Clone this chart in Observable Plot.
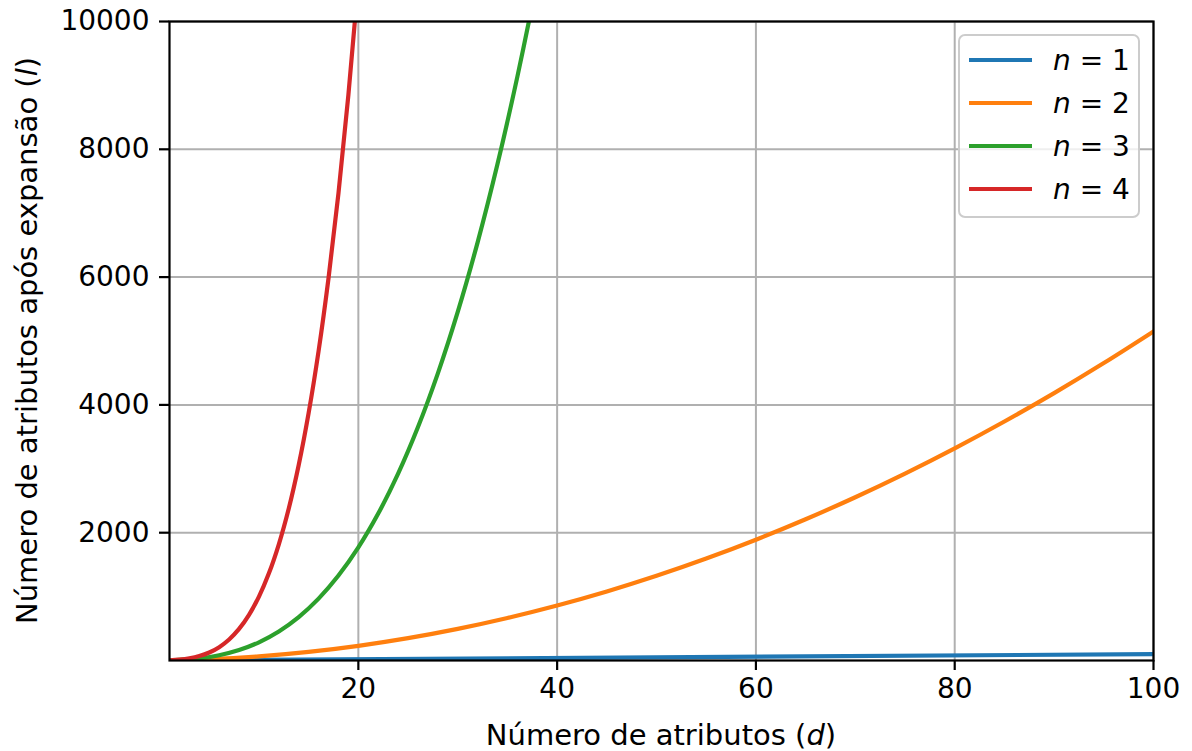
<!DOCTYPE html>
<html>
<head>
<meta charset="utf-8">
<script src="https://cdn.jsdelivr.net/npm/d3@7"></script>
<script src="https://cdn.jsdelivr.net/npm/@observablehq/plot@0.6"></script>
<style>
  html, body { margin: 0; padding: 0; background: #fff; }
  #chart { width: 1192px; height: 751px; }
</style>
</head>
<body>
<div id="chart"></div>
<script>
// ---- data ----
const seriesNames = ["n = 1", "n = 2", "n = 3", "n = 4"];
const seriesColors = ["#1f77b4", "#ff7f0e", "#2ca02c", "#d62728"];

const dN1 = [1, 100];
const lN1 = [1, 100];

const dN2 = [1, 5, 10, 15, 20, 25, 30, 35, 40, 45, 50, 55, 60, 65, 70, 75, 80, 85, 90, 95, 100];
const lN2 = [2, 20, 65, 135, 230, 350, 495, 665, 860, 1080, 1325, 1595, 1890, 2210, 2555, 2925, 3320, 3740, 4185, 4655, 5150];

const dN3 = [1, 2, 4, 6, 8, 10, 12, 14, 16, 18, 20, 22, 24, 26, 28, 30, 32, 34, 36, 38, 40];
const lN3 = [3, 9, 34, 83, 164, 285, 454, 679, 968, 1329, 1770, 2299, 2924, 3653, 4494, 5455, 6544, 7769, 9138, 10659, 12340];

const dN4 = [1, 2, 3, 4, 5, 6, 7, 8, 9, 10, 11, 12, 13, 14, 15, 16, 17, 18, 19, 20, 21];
const lN4 = [4, 14, 34, 69, 125, 209, 329, 494, 714, 1000, 1364, 1819, 2379, 3059, 3875, 4844, 5984, 7314, 8854, 10625, 12649];

const xTicks = [20, 40, 60, 80, 100];
const yTicks = [2000, 4000, 6000, 8000, 10000];

// ---- build table ----
const allD = [dN1, dN2, dN3, dN4];
const allL = [lN1, lN2, lN3, lN4];
const rows = [];
allD.forEach((ds, k) => ds.forEach((d, i) => rows.push({series: seriesNames[k], d, l: allL[k][i]})));

const FONT = "DejaVu Sans, sans-serif";
const FS = 28;
const FSL = 29;

const W = 1192, H = 751;
const mL = 169, mR = 39, mT = 21, mB = 91;

const plot = Plot.plot({
  width: W,
  height: H,
  marginLeft: mL,
  marginRight: mR,
  marginTop: mT,
  marginBottom: mB,
  style: {fontFamily: FONT, fontSize: FS + "px", background: "#fff", color: "#000"},
  x: {domain: [1, 100]},
  y: {domain: [0, 10000]},
  marks: [
    Plot.gridX(xTicks, {stroke: "#b0b0b0", strokeOpacity: 1, strokeWidth: 2}),
    Plot.gridY(yTicks, {stroke: "#b0b0b0", strokeOpacity: 1, strokeWidth: 2}),
    ...seriesNames.map((s, k) =>
      Plot.line(rows.filter(r => r.series === s), {
        x: "d", y: "l", stroke: seriesColors[k], strokeWidth: 4.2,
        curve: "catmull-rom", clip: true
      })
    ),
    Plot.frame({stroke: "#000", strokeWidth: 2.2}),
    Plot.axisX(xTicks, {tickSize: 10, tickPadding: 8, strokeWidth: 2.2, label: null, fontSize: FS, tickFormat: d => String(d)}),
    Plot.axisY(yTicks, {tickSize: 10, tickPadding: 10, strokeWidth: 2.2, label: null, fontSize: FS, tickFormat: d => String(d)})
  ]
});

document.getElementById("chart").appendChild(plot);

const svg = d3.select(plot);

// axis labels
const xl = svg.append("text")
  .attr("x", (mL + (W - mR)) / 2)
  .attr("y", 745)
  .attr("text-anchor", "middle")
  .attr("font-family", FONT)
  .attr("font-size", FSL)
  .attr("fill", "#000");
xl.append("tspan").text("Número de atributos (");
xl.append("tspan").attr("font-style", "italic").text("d");
xl.append("tspan").text(")");

const yl = svg.append("text")
  .attr("transform", `translate(37, ${(mT + (H - mB)) / 2}) rotate(-90)`)
  .attr("text-anchor", "middle")
  .attr("font-family", FONT)
  .attr("font-size", FSL)
  .attr("fill", "#000");
yl.append("tspan").text("Número de atributos após expansão (");
yl.append("tspan").attr("font-style", "italic").text("l");
yl.append("tspan").text(")");

// legend
const lg = svg.append("g");
lg.append("rect")
  .attr("x", 959).attr("y", 35)
  .attr("width", 180).attr("height", 182)
  .attr("rx", 6).attr("ry", 6)
  .attr("fill", "#fff").attr("fill-opacity", 0.8)
  .attr("stroke", "#cccccc").attr("stroke-width", 2);
seriesNames.forEach((s, k) => {
  const cy = 60 + k * 43;
  lg.append("line")
    .attr("x1", 969).attr("x2", 1032)
    .attr("y1", cy).attr("y2", cy)
    .attr("stroke", seriesColors[k]).attr("stroke-width", 4.2);
  const t = lg.append("text")
    .attr("x", 1053).attr("y", cy)
    .attr("dy", "0.35em")
    .attr("text-anchor", "start")
    .attr("font-family", FONT)
    .attr("font-size", FS)
    .attr("fill", "#000");
  t.append("tspan").attr("font-style", "italic").text("n");
  t.append("tspan").text(" = " + (k + 1));
});
</script>
</body>
</html>
